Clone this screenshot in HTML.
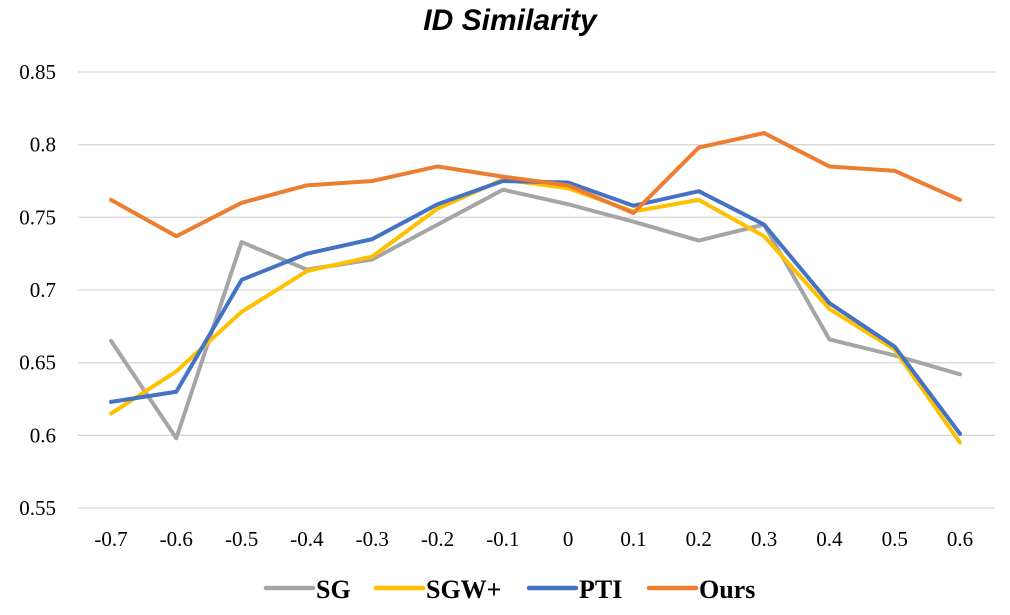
<!DOCTYPE html>
<html><head><meta charset="utf-8"><style>
body{margin:0;background:#fff;}
svg text{font-family:"Liberation Serif",serif;}
</style></head><body>
<svg id="chart" width="1010" height="610" xmlns="http://www.w3.org/2000/svg">
<text x="510" y="30" text-anchor="middle" style="font-family:'Liberation Sans',sans-serif" font-size="30" font-style="italic" font-weight="bold" fill="#000">ID Similarity</text>
<g id="grid"></g>
<g id="yticks"></g>
<g id="xticks"></g>
<g id="series"></g>
<g id="legend"></g>
</svg>
<script>
const categories=["-0.7","-0.6","-0.5","-0.4","-0.3","-0.2","-0.1","0","0.1","0.2","0.3","0.4","0.5","0.6"];
const yTicks=[0.55,0.6,0.65,0.7,0.75,0.8,0.85];
const yTickLabels=["0.55","0.6","0.65","0.7","0.75","0.8","0.85"];
const seriesNames=["SG","SGW+","PTI","Ours"];
const sgValues=[0.665,0.598,0.733,0.714,0.721,0.745,0.769,0.759,0.747,0.734,0.745,0.666,0.655,0.642];
const sgwValues=[0.615,0.644,0.685,0.713,0.723,0.756,0.776,0.770,0.754,0.762,0.737,0.687,0.659,0.595];
const ptiValues=[0.623,0.630,0.707,0.725,0.735,0.759,0.775,0.774,0.758,0.768,0.745,0.691,0.661,0.601];
const oursValues=[0.762,0.737,0.760,0.772,0.775,0.785,0.778,0.772,0.753,0.798,0.808,0.785,0.782,0.762];
const colors=["#a5a5a5","#ffc000","#4472c4","#ed7d31"];
const NS="http://www.w3.org/2000/svg";
const x0=111,x1=960,yTop=72,yBot=508,gL=78,gR=995;
const xs=i=>x0+i*(x1-x0)/(categories.length-1);
const ys=v=>yBot-(v-0.55)/(0.85-0.55)*(yBot-yTop);
function mk(t,a,p){const e=document.createElementNS(NS,t);for(const k in a)e.setAttribute(k,a[k]);document.getElementById(p).appendChild(e);return e;}
yTicks.forEach((v,i)=>{
 const l=mk('line',{x1:gL,x2:gR,y1:ys(v),y2:ys(v),stroke:'#d9d9d9','stroke-width':1.3},'grid');
 
 
 const t=mk('text',{x:56,y:ys(v)+7,'text-anchor':'end','font-size':21,fill:'#000'},'yticks');
 t.textContent=yTickLabels[i];
 
 
});
categories.forEach((c,i)=>{
 const t=mk('text',{x:xs(i),y:546,'text-anchor':'middle','font-size':21,fill:'#000'},'xticks');
 t.textContent=c;
 
 
});
[sgValues,sgwValues,ptiValues,oursValues].forEach((vals,s)=>{
 const p=mk('polyline',{points:vals.map((v,i)=>xs(i)+','+ys(v)).join(' '),fill:'none',stroke:colors[s],'stroke-width':4,'stroke-linejoin':'round','stroke-linecap':'round'},'series');
 
 
});
const legX=[266,376,529,649];
seriesNames.forEach((n,i)=>{
 const l=mk('line',{x1:legX[i],x2:legX[i]+47,y1:588,y2:588,stroke:colors[i],'stroke-width':4.5,'stroke-linecap':'round'},'legend');
 
 
 const t=mk('text',{x:legX[i]+50,y:598,'font-size':26,'font-weight':'bold',fill:'#000'},'legend');
 t.textContent=n;
 
 
});
</script>
</body></html>
